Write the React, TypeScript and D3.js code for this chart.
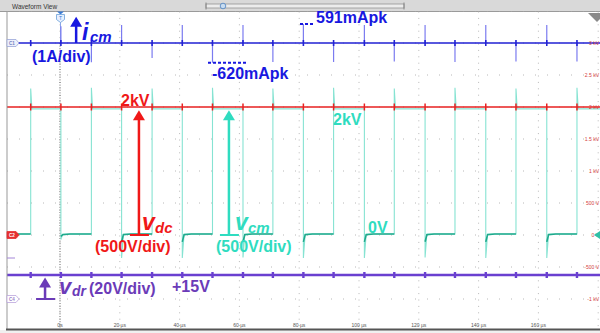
import * as d3 from "d3";
import { useEffect, useRef } from "react";

// graticule labels
const timeTicks = [0, 20, 40, 60, 80, 100, 120, 140, 160];
const timeLabels = ["0s", "20 µs", "40 µs", "60 µs", "80 µs", "100 µs", "120 µs", "140 µs", "160 µs"];
const voltTicks = [3000, 2500, 2000, 1500, 1000, 500, 0, -500, -1000];
const voltLabels = ["3 kV", "2.5 kV", "2 kV", "1.5 kV", "1 kV", "500 V", "0 V", "-500 V", "-1 kV"];

// v_cm switching edges (µs)
const riseTimes = [-9.8, 10.5, 30.8, 51.0, 71.2, 91.5, 111.8, 132.1, 152.5, 172.9];
const fallTimes = [0.3, 20.6, 40.9, 61.2, 81.4, 101.8, 122.1, 142.4, 162.8];
// overshoot on rising edges, undershoot on falling edges (V)
const riseOvershoot = [2290, 2300, 2290, 2300, 2290, 2300, 2290, 2300, 2290, 2300];
const fallUndershoot = [-70, -360, -360, -350, -360, -360, -350, -360, -360];
const vcmHigh = 1970;
const vcmLow = 15;

// dc link voltage (V)
const vdcLevel = 2000;

// common mode current spikes (A)
const icmRisePeaks = [-0.1, -0.6, -0.47, -0.62, -0.59, -0.59, -0.58, -0.59, -0.58, -0.58];
const icmFallPeaks = [0.52, 0.56, 0.56, 0.56, 0.591, 0.56, 0.56, 0.56, 0.56];

// gate driver voltage (V)
const vdrLevel = 15;

const W = 600, H = 333;
const plotLeft = 7, plotRight = 600, plotTop = 11.5, plotBottom = 329;
const font = "'Liberation Sans', Arial, sans-serif";

const blue = "#1818e0", red = "#f01818", teal = "#2fdcc0", purple = "#6b3bb8";

export default function App() {
    const svgRef = useRef(null);

    useEffect(() => {
        const svg = d3.select(svgRef.current);
        svg.selectAll("*").remove();

        const x = d3.scaleLinear().domain([0, 160]).range([60, 538.4]);
        const yDiv = d3.scaleLinear().domain([0, 1]).range([235, 203]);
        const yV = (v) => yDiv(v / 500);
        const yI = (a) => yDiv(6 + a);
        const yDr = (v) => yDiv(-2 + v / 20);
        const tStart = x.invert(plotLeft), tEnd = x.invert(plotRight);

        // chrome
        svg.append("rect").attr("width", W).attr("height", H).attr("fill", "#fff");
        svg.append("rect").attr("width", W).attr("height", 11).attr("fill", "#d9d9d9");
        svg.append("line").attr("x1", 0).attr("x2", W).attr("y1", 11.5).attr("y2", 11.5).attr("stroke", "#9a9a9a");
        svg.append("text").attr("x", 12).attr("y", 8.5).attr("font-family", font).attr("font-size", 6.5)
            .attr("fill", "#333").text("Waveform View");
        svg.append("rect").attr("x", 206).attr("y", 4).attr("width", 198).attr("height", 4)
            .attr("fill", "#ececec").attr("stroke", "#8a8a8a").attr("stroke-width", 0.7);
        [206, 404].forEach(px => svg.append("line").attr("x1", px).attr("x2", px).attr("y1", 2.5).attr("y2", 9.5)
            .attr("stroke", "#777").attr("stroke-width", 0.8));
        svg.append("circle").attr("cx", 223).attr("cy", 6).attr("r", 2.8).attr("fill", "#c8dcf0")
            .attr("stroke", "#4a80c0").attr("stroke-width", 0.8);

        const clip = svg.append("defs").append("clipPath").attr("id", "plot");
        clip.append("rect").attr("x", plotLeft).attr("y", plotTop).attr("width", plotRight - plotLeft).attr("height", plotBottom - plotTop);

        const plot = svg.append("g").attr("clip-path", "url(#plot)");

        // dotted graticule
        const vLines = [...timeTicks, 180];
        plot.selectAll(".vgrid").data(vLines).enter().append("line")
            .attr("x1", d => x(d)).attr("x2", d => x(d)).attr("y1", plotTop).attr("y2", plotBottom)
            .attr("stroke", "#b8b8b8").attr("stroke-width", 1).attr("stroke-dasharray", "1 5.4");
        const hDivs = d3.range(-2, 8);
        plot.selectAll(".hgrid").data(hDivs).enter().append("line")
            .attr("x1", plotLeft).attr("x2", plotRight).attr("y1", d => yDiv(d)).attr("y2", d => yDiv(d))
            .attr("stroke", "#b8b8b8").attr("stroke-width", 1).attr("stroke-dasharray", "1 11");

        // trigger line
        plot.append("line").attr("x1", x(0)).attr("x2", x(0)).attr("y1", yI(0)).attr("y2", plotBottom)
            .attr("stroke", "#666").attr("stroke-dasharray", "1 1.6");
        plot.append("line").attr("x1", x(0) + 0.5).attr("x2", x(0) + 0.5).attr("y1", 22).attr("y2", yI(0))
            .attr("stroke", "#8aa6e8").attr("stroke-width", 1);

        // axis labels
        plot.selectAll(".tlab").data(timeTicks).enter().append("text")
            .attr("x", d => x(d)).attr("y", 327).attr("text-anchor", "middle")
            .attr("font-family", font).attr("font-size", 5).attr("fill", "#555")
            .text((d, i) => timeLabels[i]);
        svg.selectAll(".vlab").data(voltTicks).enter().append("text")
            .attr("x", 599).attr("y", d => yV(d) + 2).attr("text-anchor", "end")
            .attr("font-family", font).attr("font-size", 5).attr("fill", "#d43a3a")
            .text((d, i) => voltLabels[i]);

        const line = d3.line().x(d => x(d[0])).y(d => d[1]);
        const edges = [...riseTimes, ...fallTimes].sort((a, b) => a - b);

        // v_cm (teal)
        const events = [
            ...riseTimes.map((t, i) => ({ t, kind: "rise", i })),
            ...fallTimes.map((t, i) => ({ t, kind: "fall", i })),
        ].sort((a, b) => a.t - b.t);
        const vcmPts = [[tStart, yV(vcmLow)]];
        events.forEach(e => {
            if (e.kind === "rise") {
                vcmPts.push([e.t, yV(vcmLow)], [e.t, yV(riseOvershoot[e.i])], [e.t + 0.4, yV(vcmHigh)]);
            } else {
                vcmPts.push([e.t, yV(vcmHigh)], [e.t, yV(fallUndershoot[e.i])], [e.t + 0.6, yV(vcmLow)]);
            }
        });
        vcmPts.push([tEnd, yV(vcmHigh)]);
        plot.append("path").attr("d", line(vcmPts)).attr("fill", "none")
            .attr("stroke", "#86e3d2").attr("stroke-width", 1.1);

        const lows = [[[tStart, yV(vcmLow)], [riseTimes[0], yV(vcmLow)]]];
        fallTimes.forEach((t, i) => {
            lows.push([[t, yV(fallUndershoot[i] * 0.3)], [t + 0.6, yV(vcmLow - 10)], [t + 3, yV(vcmLow)], [riseTimes[i + 1], yV(vcmLow)]]);
        });
        lows.forEach(seg => plot.append("path").attr("d", line(seg)).attr("fill", "none")
            .attr("stroke", "#1fa98c").attr("stroke-width", 1.6));

        // v_dc (red)
        const vdcPts = [[tStart, yV(vdcLevel)]];
        edges.forEach(t => vdcPts.push([t, yV(vdcLevel)], [t, yV(vdcLevel) - 3.5], [t, yV(vdcLevel) + 3.5], [t, yV(vdcLevel)]));
        vdcPts.push([tEnd, yV(vdcLevel)]);
        plot.append("path").attr("d", line(vdcPts)).attr("fill", "none")
            .attr("stroke", "#e82222").attr("stroke-width", 1.5);

        // i_cm (blue)
        const spikes = [
            ...riseTimes.map((t, i) => [t, icmRisePeaks[i]]),
            ...fallTimes.map((t, i) => [t, icmFallPeaks[i]]),
        ];
        plot.selectAll(".spike").data(spikes).enter().append("line")
            .attr("x1", d => x(d[0])).attr("x2", d => x(d[0]))
            .attr("y1", yI(0)).attr("y2", d => yI(d[1]))
            .attr("stroke", "#7b7bf0").attr("stroke-width", 1.2);
        const icmPts = [[tStart, yI(0)]];
        edges.forEach(t => icmPts.push([t, yI(0)], [t, yI(0) - 3], [t, yI(0) + 3], [t, yI(0)]));
        icmPts.push([tEnd, yI(0)]);
        plot.append("path").attr("d", line(icmPts)).attr("fill", "none")
            .attr("stroke", "#2222d4").attr("stroke-width", 1.6);

        // v_dr (purple)
        const vdrPts = [[tStart, yDr(vdrLevel)]];
        edges.forEach(t => vdrPts.push([t, yDr(vdrLevel)], [t, yDr(vdrLevel) - 3], [t, yDr(vdrLevel) + 3], [t, yDr(vdrLevel)]));
        vdrPts.push([tEnd, yDr(vdrLevel)]);
        plot.append("path").attr("d", line(vdrPts)).attr("fill", "none")
            .attr("stroke", "#6a40d0").attr("stroke-width", 2.4);

        // frame
        svg.append("line").attr("x1", plotLeft).attr("x2", plotLeft).attr("y1", plotTop).attr("y2", plotBottom)
            .attr("stroke", "#999");
        svg.append("rect").attr("x", 0).attr("y", 330).attr("width", W).attr("height", 3).attr("fill", "#f0f0f0");
        svg.append("line").attr("x1", plotLeft - 1).attr("x2", W).attr("y1", 329.5).attr("y2", 329.5)
            .attr("stroke", "#555").attr("stroke-width", 2);

        // channel markers
        const marker = (cy, fill, stroke, label, textFill) => {
            const g = svg.append("g");
            g.append("path").attr("d", `M7,${cy - 3.5}H16L19,${cy}L16,${cy + 3.5}H7Z`)
                .attr("fill", fill).attr("stroke", stroke).attr("stroke-width", 0.8);
            g.append("text").attr("x", 9).attr("y", cy + 1.7).attr("font-family", font).attr("font-size", 4.5)
                .attr("font-weight", "bold").attr("fill", textFill).text(label);
        };
        marker(yI(0), "#eef0fb", "#9aa6d8", "C1", "#7080c0");
        marker(yV(0), "#e53030", "#e53030", "C2", "#fff");
        marker(yDiv(-2), "#fff", "#bba4dc", "C4", "#9a80c8");
        svg.append("line").attr("x1", plotLeft).attr("x2", 15).attr("y1", 258).attr("y2", 258)
            .attr("stroke", "#a486d8").attr("stroke-width", 1);
        svg.append("path").attr("d", `M600,${yV(0) - 4}L594,${yV(0)}L600,${yV(0) + 4}Z`).attr("fill", "#2fbfa6");
        svg.append("path").attr("d", "M588,13H606L597,22Z").attr("fill", "#8a8a8a");

        // trigger marker
        svg.append("path").attr("d", `M${x(0) - 3},11.5H${x(0) + 4}L${x(0) + 0.5},14.5Z`).attr("fill", "#3a7bd5");
        svg.append("path").attr("d", `M${x(0) - 3.5},14.5H${x(0) + 4.5}V19.5L${x(0) + 0.5},22.5L${x(0) - 3.5},19.5Z`)
            .attr("fill", "#e8f0ff").attr("stroke", "#6aa0d8").attr("stroke-width", 0.8);
        svg.append("text").attr("x", x(0) + 0.5).attr("y", 19.5).attr("text-anchor", "middle")
            .attr("font-family", font).attr("font-size", 5).attr("fill", "#3a7bd5").text("T");

        // annotations
        const ann = svg.append("g").attr("font-family", font).attr("font-weight", "bold");
        const arrow = (t, yBase, yTip, color, bar) => {
            const px = x(t);
            ann.append("line").attr("x1", px).attr("x2", px).attr("y1", yBase).attr("y2", yTip + 9)
                .attr("stroke", color).attr("stroke-width", 2.5);
            ann.append("path").attr("d", `M${px},${yTip}L${px + 6},${yTip + 10}L${px - 6},${yTip + 10}Z`).attr("fill", color);
            if (bar) {
                ann.append("line").attr("x1", px - 9).attr("x2", px + 10).attr("y1", yBase).attr("y2", yBase)
                    .attr("stroke", color).attr("stroke-width", 2);
            }
        };
        const label = (px, py, txt, color, size, italic) => {
            ann.append("text").attr("x", px).attr("y", py).attr("fill", color).attr("font-size", size)
                .attr("font-style", italic ? "italic" : "normal").text(txt);
        };

        // i_cm
        arrow(5.4, yI(0), yI(0.82), blue, false);
        label(82, 40, "i", blue, 23, true);
        label(90, 41.5, "cm", blue, 15, true);
        label(32, 61.5, "(1A/div)", blue, 16, false);
        ann.append("line").attr("x1", 300).attr("x2", 315).attr("y1", yI(0.591)).attr("y2", yI(0.591))
            .attr("stroke", blue).attr("stroke-width", 2).attr("stroke-dasharray", "3 2");
        label(316, 23, "591mApk", blue, 16, false);
        ann.append("line").attr("x1", 208).attr("x2", 247).attr("y1", yI(-0.62)).attr("y2", yI(-0.62))
            .attr("stroke", blue).attr("stroke-width", 2).attr("stroke-dasharray", "3 2");
        label(212, 78.5, "-620mApk", blue, 16, false);

        // v_dc
        label(121, 105.5, "2kV", red, 16, false);
        arrow(26.4, yV(0), yV(1950), red, true);
        label(142, 230, "v", red, 23, true);
        label(155, 233, "dc", red, 15, true);
        label(95, 251.5, "(500V/div)", red, 16, false);

        // v_cm
        arrow(56.5, yV(0), yV(1950), teal, true);
        label(235, 230, "v", teal, 23, true);
        label(248, 233, "cm", teal, 15, true);
        label(216, 251.5, "(500V/div)", teal, 16, false);
        label(333, 124.5, "2kV", teal, 16, false);
        label(368, 232.5, "0V", teal, 16, false);

        // v_dr
        arrow(-5, yDr(0), yDr(13.5), purple, true);
        label(59, 294, "v", purple, 22, true);
        label(72, 296, "dr", purple, 14, true);
        label(89, 294, "(20V/div)", purple, 16, false);
        label(172, 291.5, "+15V", purple, 16, false);
    }, []);

    return (
        <svg ref={svgRef} width={W} height={H} style={{ position: "absolute", left: 0, top: 0 }} />
    );
}
